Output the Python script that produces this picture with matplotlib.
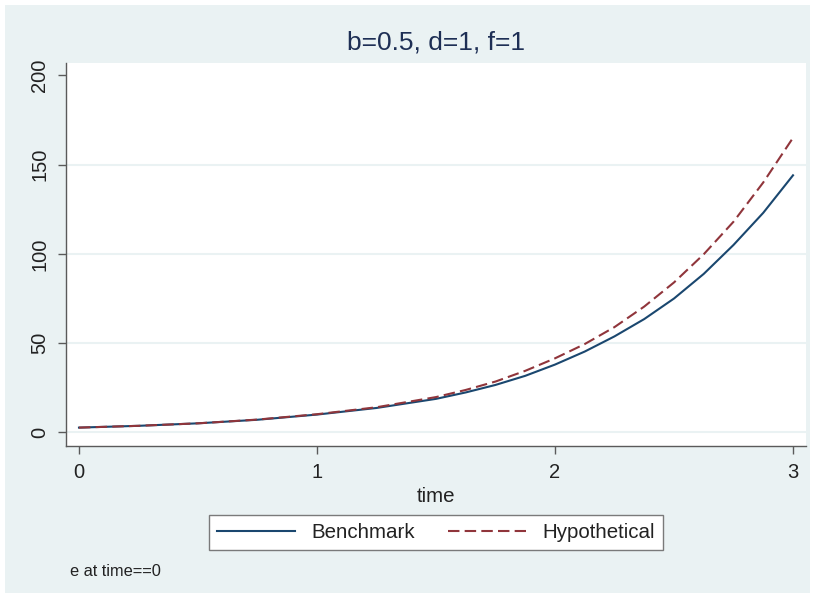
import numpy as np
import matplotlib.pyplot as plt
from matplotlib.patches import Rectangle

plt.rcParams['font.family'] = ['Liberation Sans', 'DejaVu Sans']

# values
time = [0, 0.25, 0.5, 0.75, 1.0, 1.25, 1.5, 1.625, 1.75, 1.875, 2.0,
        2.125, 2.25, 2.375, 2.5, 2.625, 2.75, 2.875, 3.0]
benchmark = [2.7, 3.7, 5.1, 7.1, 10.0, 13.7, 18.8, 22.4, 26.6, 31.7, 38.0,
             45.3, 53.8, 63.5, 75.0, 88.8, 105.0, 123.0, 144.0]
hypothetical = [2.7, 3.7, 5.1, 7.2, 10.2, 14.1, 19.8, 23.8, 28.5, 34.5, 41.5,
                49.5, 59.0, 70.5, 84.0, 99.8, 118.0, 140.0, 165.0]

x_ticks = [0, 1, 2, 3]
y_ticks = [0, 50, 100, 150, 200]
grid_vals = [0, 50, 100, 150]

bg = '#EAF2F3'
navy = '#1A476F'
maroon = '#90353B'
axis_gray = '#5A5A5A'

W, H = 815, 598
fig = plt.figure(figsize=(W / 100, H / 100), dpi=100, facecolor='white')
fig.patches.append(Rectangle((5 / W, 5 / H), 805 / W, 588 / H,
                             transform=fig.transFigure, facecolor=bg,
                             edgecolor='none', zorder=-5))

ax = fig.add_axes([66 / W, 1 - 446 / H, 740 / W, 383 / H])
ax.set_facecolor('white')

for g in grid_vals:
    ax.axhline(g, color=bg, lw=1.5, zorder=1)

ax.plot(time, benchmark, color=navy, lw=1.5, label='Benchmark', zorder=3)
ax.plot(time, hypothetical, color=maroon, lw=1.5, dashes=(5.5, 2.5),
        label='Hypothetical', zorder=3)

ax.set_xlim(-0.0546, 3.0546)
ax.set_ylim(-7.6, 206.9)
ax.set_xticks(x_ticks)
ax.set_xticklabels([str(v) for v in x_ticks])
ax.set_yticks(y_ticks)
ax.set_yticklabels([str(v) for v in y_ticks], rotation=90, va='center')

for s in ['top', 'right']:
    ax.spines[s].set_visible(False)
for s in ['left', 'bottom']:
    ax.spines[s].set_color(axis_gray)
    ax.spines[s].set_linewidth(1.0)
ax.tick_params(axis='both', direction='out', length=6, width=1.0,
               color=axis_gray, labelsize=14.5, labelcolor='#222222')
ax.tick_params(axis='x', pad=6)
ax.tick_params(axis='y', pad=6)

ax.set_xlabel('time', fontsize=14.8, color='#222222', labelpad=4)
ax.set_title('b=0.5, d=1, f=1', fontsize=19, color='#1E2F55', pad=10)

leg = fig.legend(loc='center', bbox_to_anchor=(436 / W, 1 - 532.5 / H),
                 ncol=2, fontsize=14.8, frameon=True, fancybox=False,
                 framealpha=1, facecolor='white',
                 handlelength=3.8, columnspacing=1.6, borderpad=0.4)
leg.get_frame().set_edgecolor('#7A7A7A')
leg.get_frame().set_linewidth(1.0)
for t in leg.get_texts():
    t.set_color('#222222')

fig.text(70 / W, 1 - 572 / H, 'e at time==0', fontsize=11.8,
         color='#222222', va='center', ha='left')

fig.savefig('out.png', dpi=100, facecolor='white')
